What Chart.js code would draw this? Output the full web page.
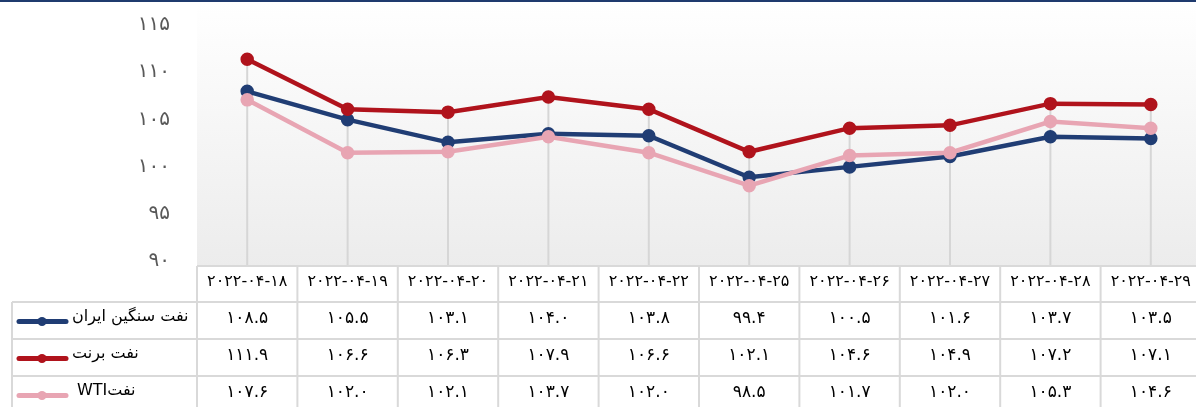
<!DOCTYPE html>
<html lang="fa">
<head>
<meta charset="utf-8">
<script src="https://cdn.jsdelivr.net/npm/chart.js@4.4.1/dist/chart.umd.min.js"></script>
<style>
  html, body { margin: 0; padding: 0; background: #fff; overflow: hidden; }
  #wrap { width: 1210px; height: 407px; position: relative; }
</style>
</head>
<body>
<div id="wrap"><canvas id="oilChart"></canvas></div>
<script>
// data
const dates = ["2022-04-18", "2022-04-19", "2022-04-20", "2022-04-21", "2022-04-22",
               "2022-04-25", "2022-04-26", "2022-04-27", "2022-04-28", "2022-04-29"];
const seriesNames = ["نفت سنگین ایران", "نفت برنت", "نفتWTI"];
const iranHeavy = [108.5, 105.5, 103.1, 104.0, 103.8, 99.4, 100.5, 101.6, 103.7, 103.5];
const brent     = [111.9, 106.6, 106.3, 107.9, 106.6, 102.1, 104.6, 104.9, 107.2, 107.1];
const wti       = [107.6, 102.0, 102.1, 103.7, 102.0, 98.5, 101.7, 102.0, 105.3, 104.6];
const yTicks = [90, 95, 100, 105, 110, 115];

const colors = ["#203d74", "#b0131c", "#e8a5b3"];
const nameLeft = [72, 72, 77];
const FONT = "'DejaVu Sans', sans-serif";

const faDigits = "۰۱۲۳۴۵۶۷۸۹";
function toFa(s) {
    return String(s).replace(/[0-9]/g, d => faDigits[+d]);
}

const allSeries = [iranHeavy, brent, wti];

// gradient plot background + drop lines
const backdrop = {
    id: "backdrop",
    beforeDatasetsDraw(chart) {
        const { ctx, chartArea, scales } = chart;
        ctx.save();
        const g = ctx.createLinearGradient(0, 2, 0, chartArea.bottom);
        g.addColorStop(0, "#ffffff");
        g.addColorStop(1, "#ececec");
        ctx.fillStyle = g;
        ctx.fillRect(chartArea.left, 2, chartArea.right - chartArea.left, chartArea.bottom - 2);

        ctx.strokeStyle = "#d6d6d6";
        ctx.lineWidth = 2;
        dates.forEach((d, i) => {
            const top = Math.max(...allSeries.map(s => s[i]));
            const x = scales.x.getPixelForValue(i);
            ctx.beginPath();
            ctx.moveTo(x, scales.y.getPixelForValue(top));
            ctx.lineTo(x, chartArea.bottom);
            ctx.stroke();
        });
        ctx.restore();
    }
};

// data table under the plot
const dataTable = {
    id: "dataTable",
    afterDraw(chart) {
        const { ctx, chartArea, scales } = chart;
        const xs = scales.x;
        const half = (xs.getPixelForValue(1) - xs.getPixelForValue(0)) / 2;
        const top = chartArea.bottom;
        const rows = [top, top + 36, top + 73, top + 110, top + 147];
        const leftBox = 12;
        const right = xs.getPixelForValue(dates.length - 1) + half;

        ctx.save();
        // top navy rule
        ctx.fillStyle = "#1f3b6e";
        ctx.fillRect(0, 0, chart.width, 2);

        ctx.strokeStyle = "#d9d9d9";
        ctx.lineWidth = 2;
        // horizontal lines
        ctx.beginPath();
        ctx.moveTo(chartArea.left, rows[0]); ctx.lineTo(right, rows[0]);
        for (let r = 1; r < rows.length; r++) {
            ctx.moveTo(leftBox, rows[r]); ctx.lineTo(right, rows[r]);
        }
        // vertical lines
        dates.forEach((d, i) => {
            const x = xs.getPixelForValue(i) - half;
            ctx.moveTo(x, rows[0]); ctx.lineTo(x, rows[4]);
        });
        ctx.moveTo(right, rows[0]); ctx.lineTo(right, rows[4]);
        ctx.moveTo(leftBox, rows[1]); ctx.lineTo(leftBox, rows[4]);
        ctx.stroke();

        // header dates
        ctx.fillStyle = "#000";
        ctx.textAlign = "center";
        ctx.textBaseline = "middle";
        ctx.font = "16px " + FONT;
        dates.forEach((d, i) => {
            ctx.fillText(toFa(d), xs.getPixelForValue(i), (rows[0] + rows[1]) / 2 - 2);
        });

        // rows
        allSeries.forEach((s, r) => {
            const cy = (rows[r + 1] + rows[r + 2]) / 2 - 1;
            ctx.font = "17px " + FONT;
            s.forEach((v, i) => {
                ctx.textAlign = "center";
                ctx.fillText(toFa(v.toFixed(1)), xs.getPixelForValue(i), cy - 1);
            });
            // legend key
            ctx.strokeStyle = colors[r];
            ctx.lineWidth = 5;
            ctx.lineCap = "round";
            ctx.beginPath();
            ctx.moveTo(19, cy + 2); ctx.lineTo(66, cy + 2);
            ctx.stroke();
            ctx.fillStyle = colors[r];
            ctx.beginPath();
            ctx.arc(42, cy + 2, 4.5, 0, Math.PI * 2);
            ctx.fill();
            // name
            ctx.fillStyle = "#000";
            ctx.font = "16px " + FONT;
            ctx.direction = "rtl";
            ctx.textAlign = "left";
            ctx.fillText(seriesNames[r], nameLeft[r], cy - 3);
            ctx.direction = "ltr";
        });
        ctx.restore();
    }
};

new Chart(document.getElementById("oilChart"), {
    type: "line",
    data: {
        labels: dates,
        datasets: allSeries.map((s, i) => ({
            label: seriesNames[i],
            data: s,
            borderColor: colors[i],
            backgroundColor: colors[i],
            borderWidth: 4.5,
            pointRadius: 4.5,
            pointHoverRadius: 4.5,
            tension: 0,
            order: allSeries.length - i
        }))
    },
    options: {
        responsive: true,
        maintainAspectRatio: false,
        animation: false,
        layout: { padding: { top: 30, right: 7, bottom: 141, left: 0 } },
        plugins: { legend: { display: false }, tooltip: { enabled: false } },
        scales: {
            x: { display: false, offset: true },
            y: {
                min: 90,
                max: 115,
                afterFit(s) { s.width = 197; s.paddingTop = 0; s.paddingBottom = 0; },
                afterBuildTicks(s) { s.ticks = yTicks.map(v => ({ value: v })); },
                grid: { display: false },
                border: { display: false },
                ticks: {
                    padding: 19,
                    labelOffset: -5,
                    color: "#595959",
                    font: { family: FONT, size: 20 },
                    callback: v => toFa(v)
                }
            }
        }
    },
    plugins: [backdrop, dataTable]
});
</script>
</body>
</html>
